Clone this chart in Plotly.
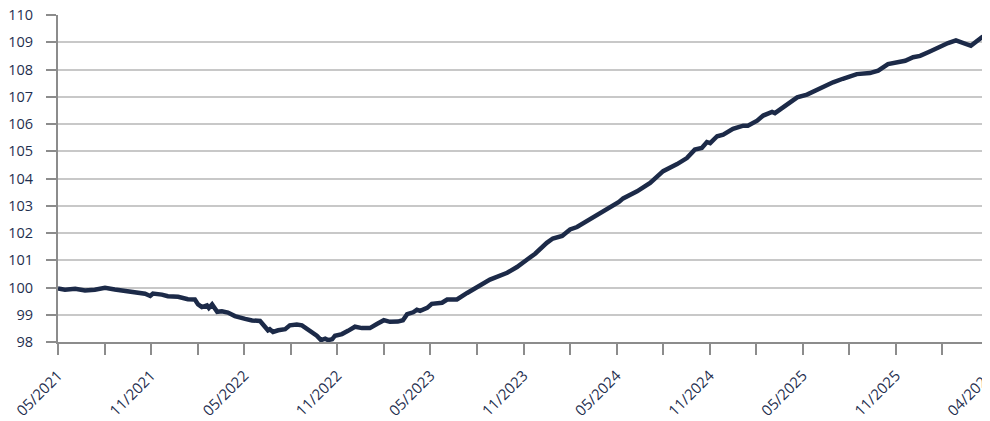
import plotly.graph_objects as go

# time position in axis periods (one period = one minor tick interval, 0 = 05/2021, 20 = 04/2026)
period = [0.00, 0.15, 0.37, 0.58, 0.79, 1.01, 1.22, 1.44, 1.72, 1.87, 1.98, 2.04, 2.23, 2.36, 2.58,
          2.79, 2.94, 3.01, 3.09, 3.20, 3.24, 3.31, 3.42, 3.52, 3.65, 3.80, 4.02, 4.17, 4.34, 4.45,
          4.51, 4.55, 4.62, 4.73, 4.88, 4.98, 5.13, 5.24, 5.35, 5.48, 5.56, 5.65, 5.74, 5.80, 5.89,
          5.95, 6.10, 6.23, 6.38, 6.53, 6.70, 6.85, 7.00, 7.13, 7.30, 7.41, 7.50, 7.63, 7.71, 7.78,
          7.93, 8.03, 8.16, 8.25, 8.36, 8.57, 8.79, 9.07, 9.28, 9.65, 9.86, 10.08, 10.25, 10.50,
          10.63, 10.83, 11.00, 11.15, 11.43, 11.69, 11.86, 12.05, 12.14, 12.44, 12.72, 13.00, 13.30,
          13.51, 13.68, 13.83, 13.94, 14.01, 14.16, 14.29, 14.50, 14.72, 14.82, 15.02, 15.15, 15.30,
          15.34, 15.40, 15.57, 15.72, 15.88, 16.09, 16.31, 16.43, 16.65, 16.86, 17.16, 17.44, 17.62,
          17.83, 18.02, 18.20, 18.37, 18.52, 18.73, 18.95, 19.12, 19.29, 19.44, 19.61, 19.85, 20.00]

values = [99.96, 99.92, 99.95, 99.89, 99.92, 99.99, 99.93, 99.87, 99.82, 99.77, 99.69, 99.78, 99.74,
          99.68, 99.66, 99.57, 99.56, 99.38, 99.28, 99.34, 99.25, 99.38, 99.11, 99.13, 99.08, 98.95,
          98.85, 98.79, 98.77, 98.58, 98.43, 98.47, 98.37, 98.43, 98.47, 98.61, 98.64, 98.61, 98.47,
          98.35, 98.23, 98.07, 98.12, 98.07, 98.10, 98.23, 98.29, 98.41, 98.56, 98.51, 98.51, 98.66,
          98.80, 98.74, 98.75, 98.80, 99.02, 99.09, 99.18, 99.14, 99.25, 99.40, 99.41, 99.44, 99.56,
          99.56, 99.80, 100.08, 100.29, 100.54, 100.75, 101.03, 101.24, 101.64, 101.80, 101.89,
          102.13, 102.22, 102.50, 102.78, 102.92, 103.14, 103.27, 103.53, 103.84, 104.27, 104.53,
          104.75, 105.06, 105.12, 105.34, 105.30, 105.55, 105.61, 105.82, 105.94, 105.94, 106.12,
          106.31, 106.38, 106.44, 106.40, 106.59, 106.77, 106.98, 107.08, 107.26, 107.35, 107.53,
          107.66, 107.83, 107.87, 107.96, 108.20, 108.27, 108.32, 108.45, 108.50, 108.66, 108.85,
          108.97, 109.07, 108.97, 108.87, 109.19, 109.21]

tick_positions = list(range(0, 21))
tick_labels = ["05/2021", "11/2021", "05/2022", "11/2022", "05/2023", "11/2023",
               "05/2024", "11/2024", "05/2025", "11/2025", "04/2026"]
tick_text = [tick_labels[i // 2] if i % 2 == 0 else "" for i in tick_positions]

y_ticks = list(range(98, 111))

text_color = "#1f2f4f"
line_color = "#1c2a48"

fig = go.Figure()
fig.add_trace(go.Scatter(x=period, y=values, mode="lines", cliponaxis=False,
                         line=dict(color=line_color, width=4.5), hoverinfo="skip"))

fig.update_layout(
    width=982, height=413,
    margin=dict(l=50, r=1, t=7, b=79),
    paper_bgcolor="white", plot_bgcolor="white",
    showlegend=False,
    font=dict(family="Open Sans, sans-serif", size=15, color=text_color),
)
fig.update_xaxes(
    range=[0, 20], tickvals=tick_positions, ticktext=tick_text, tickangle=-45,
    showgrid=False, zeroline=False, automargin=False, ticklabeloverflow="allow",
    showline=True, linecolor="#8c8c8c", linewidth=2,
    ticks="outside", ticklen=11, tickwidth=2, tickcolor="#8c8c8c",
    ticklabelstandoff=6,
    tickfont=dict(size=15, color=text_color),
)
fig.update_yaxes(
    range=[98, 110], tickvals=y_ticks,
    showgrid=True, gridcolor="#c8c8c8", gridwidth=2, zeroline=False, automargin=False,
    ticklabeloverflow="allow",
    showline=True, linecolor="#8c8c8c", linewidth=2,
    ticks="outside", ticklen=10, tickwidth=2, tickcolor="#8c8c8c",
    ticklabelstandoff=10,
    tickfont=dict(size=14.5, color=text_color),
)

fig.write_html("out.html")
